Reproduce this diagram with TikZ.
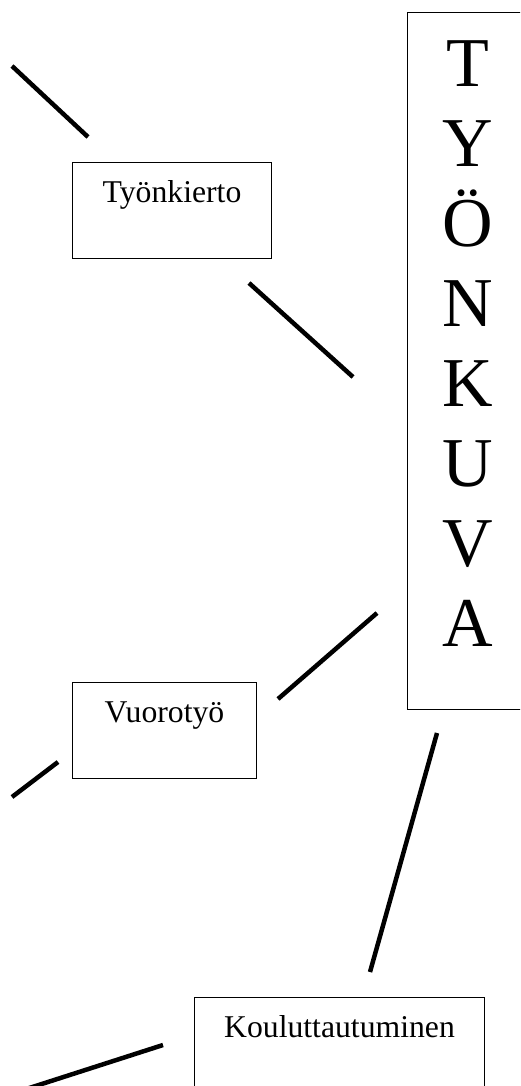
\documentclass[tikz,border=0pt]{standalone}
\usepackage{fontspec}
\setmainfont{Liberation Serif}
\begin{document}
\begin{tikzpicture}[x=1pt,y=-1pt,
  smallbox/.style={draw, line width=1pt, inner sep=0pt, anchor=north west,
    text height=40pt, text depth=56pt, font=\fontsize{31.7}{36}\selectfont},
  bigframe/.style={draw, line width=1pt, inner sep=0pt, anchor=north west,
    minimum width=122pt, minimum height=697pt},
  bigtext/.style={inner sep=0pt, anchor=north west,
    text width=122pt, align=center, text height=74pt,
    font=\fontsize{70}{80}\selectfont},
  seg/.style={line width=4.5pt, line cap=butt}]
\useasboundingbox (0,0) rectangle (520,1086);
\clip (0,0) rectangle (520,1086);
\fill[white] (0,0) rectangle (520,1086);
% main vertical box
\node[bigframe] (tk) at (407,12) {};
\node[bigtext] (tkt) at (tk.north west) {T\\Y\\Ö\\N\\K\\U\\V\\A};
% concept boxes
\node[smallbox, minimum width=199pt] (kierto) at (72,162) {Työnkierto};
\node[smallbox, minimum width=184pt] (vuoro) at (72,682) {Vuorotyö};
\node[smallbox, minimum width=290pt] (koulu) at (194,997) {Kouluttautuminen};
% connector end points
\coordinate (a1) at (12,66);   \coordinate (a2) at (88,137);
\coordinate (b1) at (249,283); \coordinate (b2) at (353,377);
\coordinate (c1) at (278,699); \coordinate (c2) at (377,613);
\coordinate (d1) at (12,797);  \coordinate (d2) at (58,762);
\coordinate (e1) at (437,733); \coordinate (e2) at (370,972);
\coordinate (f1) at (163,1045);\coordinate (f2) at (20,1091);
\draw[seg] (a1) -- (a2);
\draw[seg] (b1) -- (b2);
\draw[seg] (c1) -- (c2);
\draw[seg] (d1) -- (d2);
\draw[seg] (e1) -- (e2);
\draw[seg] (f1) -- (f2);
\end{tikzpicture}
\end{document}
